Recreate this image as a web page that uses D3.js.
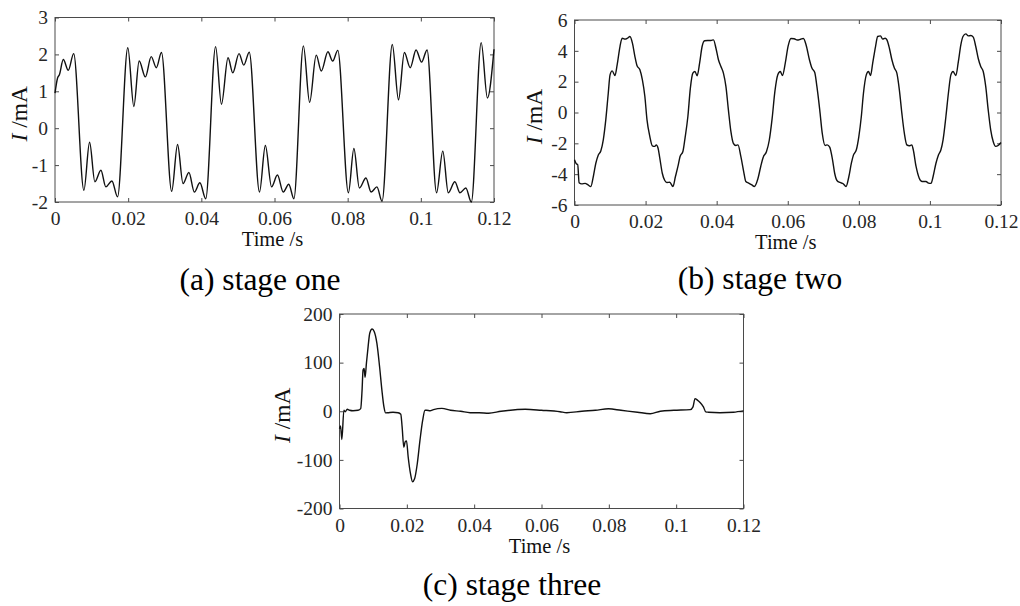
<!DOCTYPE html>
<html>
<head>
<meta charset="utf-8">
<script src="https://cdn.jsdelivr.net/npm/d3@7"></script>
<style>
  html, body { margin: 0; padding: 0; background: #fff; }
  svg { display: block; font-family: "Liberation Serif", "Times New Roman", serif; }
  .tick text { font-size: 19.5px; fill: #262626; font-family: "Liberation Serif", serif; }
  .tick line { stroke: #4a4a4a; }
  .frame { fill: none; stroke: #4a4a4a; stroke-width: 1; }
  .trace { fill: none; stroke: #111; stroke-width: 1.4; stroke-linejoin: round; }
  .axis-title { font-size: 20.5px; fill: #111; }
  .caption { font-size: 31.5px; fill: #000; }
</style>
</head>
<body>
<svg id="chart" width="1020" height="606"></svg>
<script>
const TIME_TICKS = [0, 0.02, 0.04, 0.06, 0.08, 0.1, 0.12];
const STAGE_ONE_TICKS = [-2, -1, 0, 1, 2, 3];
const STAGE_TWO_TICKS = [-6, -4, -2, 0, 2, 4, 6];
const STAGE_THREE_TICKS = [-200, -100, 0, 100, 200];

// [time (s), current (mA)]
const stageOnePoints = [
  [0, 0.95], [0.0007, 1.36], [0.0012, 1.45], [0.00227, 1.86], [0.00364, 1.57], [0.0051, 2.02],
  [0.0079, -1.68], [0.00945, -0.38], [0.0109, -1.45], [0.01255, -1.14], [0.0139, -1.59], [0.01555, -1.43], [0.0171, -1.86],
  [0.0199, 2.18], [0.02155, 0.59], [0.023, 1.82], [0.0247, 1.39], [0.0263, 1.94], [0.0277, 1.64], [0.0291, 2.05],
  [0.0319, -1.71], [0.0335, -0.44], [0.035, -1.5], [0.0366, -1.2], [0.0381, -1.73], [0.0396, -1.48], [0.0412, -1.91],
  [0.0439, 2.21], [0.0455, 0.65], [0.0473, 1.91], [0.0486, 1.5], [0.0503, 2.02], [0.0516, 1.71], [0.0531, 2.06],
  [0.0559, -1.73], [0.0575, -0.47], [0.0592, -1.59], [0.0608, -1.27], [0.0624, -1.73], [0.0639, -1.52], [0.0653, -1.91],
  [0.0679, 2.23], [0.0696, 0.7], [0.0714, 1.98], [0.0728, 1.55], [0.0746, 2.07], [0.0759, 1.82], [0.0773, 2.11],
  [0.0802, -1.75], [0.0817, -0.55], [0.0832, -1.62], [0.085, -1.35], [0.0864, -1.73], [0.088, -1.59], [0.0894, -1.98],
  [0.0922, 2.27], [0.0939, 0.77], [0.0955, 2.05], [0.0971, 1.64], [0.0987, 2.12], [0.1002, 1.79], [0.1017, 2.12],
  [0.1043, -1.75], [0.106, -0.62], [0.1075, -1.75], [0.1093, -1.45], [0.1107, -1.75], [0.1123, -1.62], [0.1138, -2.0],
  [0.1165, 2.32], [0.1182, 0.82], [0.12, 2.14],
];

const stageTwoPoints = [
  [0, -3.07], [0.0005, -3.33], [0.0009, -3.38], [0.0013, -4.55], [0.002, -4.63], [0.003, -4.6], [0.0037, -4.68], [0.0046, -4.8],
  [0.0053, -4.15], [0.006, -3.29], [0.0067, -2.75], [0.0074, -2.5], [0.0081, -1.77], [0.0088, -0.48], [0.0095, 1.25], [0.01, 2.44],
  [0.0106, 2.7], [0.0114, 2.4], [0.012, 3.09], [0.0128, 4.28], [0.0134, 4.82], [0.0142, 4.76], [0.0149, 4.82], [0.0156, 4.93],
  [0.0163, 4.5], [0.017, 3.63], [0.0176, 3.03], [0.0184, 2.77], [0.0191, 2.12], [0.0198, 1.04], [0.0204, -0.48], [0.0212, -1.56],
  [0.0219, -2.16], [0.0226, -2.2], [0.023, -2.1], [0.0235, -2.3], [0.024, -2.96], [0.0247, -3.94], [0.0254, -4.41], [0.026, -4.54],
  [0.0268, -4.52], [0.0277, -4.8],
  [0.0284, -4.15], [0.0291, -3.5], [0.0297, -2.85], [0.0305, -2.53], [0.0311, -1.66], [0.0319, -0.26], [0.0326, 1.58], [0.0333, 2.55],
  [0.0339, 2.66], [0.0345, 2.38], [0.0352, 3.2], [0.0359, 4.28], [0.0366, 4.65], [0.0375, 4.67], [0.0384, 4.67], [0.0391, 4.71],
  [0.0398, 4.17], [0.0405, 3.42], [0.0412, 2.98], [0.0419, 2.55], [0.0426, 1.69], [0.0433, 0.17], [0.044, -1.23], [0.0447, -2.0],
  [0.0454, -2.14], [0.046, -2.1], [0.0468, -2.85], [0.0476, -3.83], [0.0482, -4.48], [0.049, -4.58], [0.0499, -4.7], [0.0506, -4.8],
  [0.0516, -4.3], [0.0524, -3.5], [0.0531, -2.9], [0.054, -2.55], [0.0548, -1.8], [0.0556, -0.4], [0.0564, 1.4], [0.0572, 2.45],
  [0.0579, 2.66], [0.0585, 2.4], [0.0593, 3.2], [0.0601, 4.3], [0.0609, 4.8], [0.0618, 4.78], [0.0627, 4.7], [0.0636, 4.75],
  [0.0644, 4.8], [0.0652, 4.35], [0.0661, 3.42], [0.0668, 2.88], [0.0676, 2.6], [0.0682, 1.69], [0.069, 0.17], [0.0697, -1.34],
  [0.0705, -2.14], [0.0711, -2.1], [0.0718, -2.25], [0.0726, -3.07], [0.0732, -3.94], [0.0739, -4.43], [0.0747, -4.54], [0.0756, -4.62],
  [0.0764, -4.8],
  [0.0772, -4.15], [0.0779, -3.29], [0.0785, -2.75], [0.0793, -2.42], [0.08, -1.56], [0.0807, -0.26], [0.0813, 1.25], [0.0821, 2.44],
  [0.0827, 2.66], [0.0833, 2.4], [0.0839, 3.2], [0.0847, 4.28], [0.0853, 4.93], [0.0861, 4.97], [0.0867, 4.76], [0.0874, 4.82],
  [0.0879, 4.71], [0.0886, 4.17], [0.0893, 3.42], [0.09, 2.88], [0.0907, 2.55], [0.0914, 1.47], [0.0921, -0.04], [0.0928, -1.34],
  [0.0935, -2.1], [0.0942, -2.16], [0.0949, -2.1], [0.0953, -2.4], [0.0961, -3.5], [0.097, -4.26], [0.0978, -4.48], [0.0989, -4.48],
  [0.0996, -4.58], [0.1003, -4.6],
  [0.1009, -4.15], [0.1017, -3.29], [0.1024, -2.75], [0.1031, -2.42], [0.1037, -1.77], [0.1045, -0.26], [0.1052, 1.25], [0.1059, 2.44],
  [0.1065, 2.66], [0.1073, 2.4], [0.108, 3.3], [0.1087, 4.39], [0.1093, 4.93], [0.1101, 5.1], [0.1108, 4.97], [0.1115, 4.99],
  [0.1122, 4.89], [0.1129, 4.28], [0.1136, 3.5], [0.1143, 2.98], [0.115, 2.66], [0.1157, 1.69], [0.1164, 0.17], [0.1171, -1.12],
  [0.1178, -1.88], [0.1185, -2.2], [0.1192, -2.14], [0.12, -1.95],
];

const stageThreePoints = [
  [0, -36], [0.0003, -30], [0.0007, -58], [0.0013, 2], [0.0017, -1], [0.0023, 4], [0.003, 2], [0.004, 1], [0.0055, 2],
  [0.0063, 5.5], [0.0067, 43], [0.007, 85], [0.0073, 88], [0.0076, 70], [0.008, 99], [0.0085, 133], [0.009, 161],
  [0.0097, 169], [0.0103, 164], [0.0111, 140], [0.0119, 92], [0.0126, 43], [0.0132, 9], [0.0137, -3.4], [0.0144, -3],
  [0.0159, -2], [0.0174, -3], [0.0182, -6], [0.0186, -32], [0.0191, -74], [0.0195, -63], [0.0199, -61], [0.0204, -94],
  [0.0211, -129], [0.0217, -145], [0.0223, -139], [0.0231, -108], [0.0239, -60], [0.0247, -19], [0.0254, 2], [0.0259, 2],
  [0.0269, 1], [0.0279, 3.4], [0.0304, 6], [0.033, 2], [0.036, 0], [0.0388, -3], [0.0415, -3], [0.0443, -4], [0.048, 0],
  [0.0552, 4], [0.06, 2], [0.0655, -1], [0.0675, -3], [0.072, 0], [0.076, 2], [0.0799, 5], [0.0836, 2], [0.0885, -2],
  [0.0923, -5], [0.0953, 0], [0.0993, 2], [0.1042, 3.4], [0.105, 9], [0.1056, 26], [0.1063, 23], [0.1071, 18], [0.1081, 9],
  [0.1088, -1.4], [0.1096, -2], [0.113, -3], [0.117, -2], [0.12, 0.7],
];

const svg = d3.select("#chart");

const panels = [
  {
    caption: "(a) stage one",
    box: { left: 55, right: 494, top: 17.5, bottom: 202 },
    yTicks: STAGE_ONE_TICKS,
    points: stageOnePoints,
    titleX: 27,
    captionX: 260,
    captionY: 290,
  },
  {
    caption: "(b) stage two",
    box: { left: 574.5, right: 1001, top: 20, bottom: 205 },
    yTicks: STAGE_TWO_TICKS,
    points: stageTwoPoints,
    titleX: 542,
    captionX: 760,
    captionY: 289,
  },
  {
    caption: "(c) stage three",
    box: { left: 339.5, right: 743.5, top: 314, bottom: 508.5 },
    yTicks: STAGE_THREE_TICKS,
    points: stageThreePoints,
    titleX: 290,
    captionX: 512,
    captionY: 595,
  },
];

function drawPanel(panel) {
  const { box } = panel;
  const g = svg.append("g");

  const x = d3.scaleLinear().domain(d3.extent(TIME_TICKS)).range([box.left, box.right]);
  const y = d3.scaleLinear().domain(d3.extent(panel.yTicks)).range([box.bottom, box.top]);
  const label = (d) => String(d);

  // inward ticks on all four sides, labels only bottom and left
  g.append("g")
    .attr("transform", `translate(0,${box.bottom})`)
    .call(d3.axisBottom(x).tickValues(TIME_TICKS).tickFormat(label).tickSizeInner(-4).tickSizeOuter(0).tickPadding(9.5))
    .call((a) => a.select(".domain").remove());

  g.append("g")
    .attr("transform", `translate(0,${box.top})`)
    .call(d3.axisTop(x).tickValues(TIME_TICKS).tickFormat("").tickSizeInner(-4).tickSizeOuter(0))
    .call((a) => a.select(".domain").remove());

  g.append("g")
    .attr("transform", `translate(${box.left},0)`)
    .call(d3.axisLeft(y).tickValues(panel.yTicks).tickFormat(label).tickSizeInner(-4).tickSizeOuter(0).tickPadding(7))
    .call((a) => a.select(".domain").remove());

  g.append("g")
    .attr("transform", `translate(${box.right},0)`)
    .call(d3.axisRight(y).tickValues(panel.yTicks).tickFormat("").tickSizeInner(-4).tickSizeOuter(0))
    .call((a) => a.select(".domain").remove());

  g.selectAll(".tick text").attr("fill", null);

  g.append("rect")
    .attr("class", "frame")
    .attr("x", box.left)
    .attr("y", box.top)
    .attr("width", box.right - box.left)
    .attr("height", box.bottom - box.top);

  const line = d3
    .line()
    .x((d) => x(d[0]))
    .y((d) => y(d[1]))
    .curve(d3.curveMonotoneX);

  g.append("path").attr("class", "trace").attr("d", line(panel.points));

  // axis titles
  const midX = (box.left + box.right) / 2;
  g.append("text")
    .attr("class", "axis-title")
    .attr("x", midX - 2)
    .attr("y", box.bottom + 44)
    .attr("text-anchor", "middle")
    .text("Time /s");

  const yTitle = g
    .append("text")
    .attr("class", "axis-title")
    .style("font-size", "23.5px")
    .attr("text-anchor", "middle")
    .attr("transform", `translate(${panel.titleX},${(box.top + box.bottom) / 2 + 4}) rotate(-90)`);
  yTitle.append("tspan").attr("font-style", "italic").text("I");
  yTitle.append("tspan").text(" /mA");

  g.append("text")
    .attr("class", "caption")
    .attr("x", panel.captionX)
    .attr("y", panel.captionY)
    .attr("text-anchor", "middle")
    .text(panel.caption);
}

panels.forEach(drawPanel);
</script>
</body>
</html>
